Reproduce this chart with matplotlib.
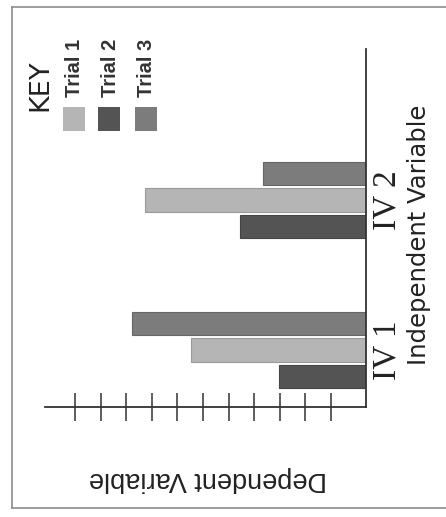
import matplotlib
matplotlib.use("Agg")
import matplotlib.pyplot as plt
from matplotlib import font_manager
from matplotlib.patches import Rectangle
from matplotlib.lines import Line2D

# Chart data (the chart is drawn turned a quarter turn, bars grow leftwards)
categories = ["IV 1", "IV 2"]
trials = ["Trial 1", "Trial 2", "Trial 3"]
trial1 = [6.84, 8.63]
trial2 = [3.40, 4.92]
trial3 = [9.14, 4.02]
tick_vals = [1.37, 2.37, 3.37, 4.37, 5.37, 6.37, 7.37, 8.37, 9.37, 10.37, 11.37]

colors = {"Trial 1": "#b5b5b5", "Trial 2": "#545454", "Trial 3": "#7c7c7c"}
edges = {"Trial 1": "#9a9a9a", "Trial 2": "#444444", "Trial 3": "#666666"}

names = {f.name for f in font_manager.fontManager.ttflist}
narrow = "Liberation Sans" if "Liberation Sans" in names else "DejaVu Sans"
serif = "Liberation Serif" if "Liberation Serif" in names else "DejaVu Serif"

W, H = 446, 517
fig = plt.figure(figsize=(W / 100, H / 100), dpi=100)


def fx(px):
    return px / W


def fy(py):
    return (H - py) / H


# outer frame (top, left, bottom only, right edge is cut off)
frame_kw = dict(color="#8c8c8c", lw=1.2, transform=fig.transFigure)
fig.lines.append(Line2D([fx(12), fx(446)], [fy(7), fy(7)], **frame_kw))
fig.lines.append(Line2D([fx(12), fx(12)], [fy(7), fy(508)], **frame_kw))
fig.lines.append(Line2D([fx(12), fx(446)], [fy(508), fy(508)], **frame_kw))

ax = fig.add_axes([fx(45), fy(407), fx(366) - fx(45), fy(49) - fy(407)])

pos = [0, 1]
bh = 0.157
off = 0.176
series = {"Trial 1": trial1, "Trial 2": trial2, "Trial 3": trial3}
offsets = {"Trial 2": -off, "Trial 1": 0.0, "Trial 3": off}
for t in trials:
    ax.barh([p + offsets[t] for p in pos], series[t], height=bh,
            color=colors[t], edgecolor=edges[t], linewidth=0.8)

ax.set_xlim(12.54, 0)
ax.set_ylim(-0.38, 2.007)

for s in ["top", "left"]:
    ax.spines[s].set_visible(False)
for s in ["right", "bottom"]:
    ax.spines[s].set_linewidth(1.3)
    ax.spines[s].set_color("#333333")

ax.set_xticks(tick_vals)
ax.set_xticklabels([])
ax.tick_params(axis="x", direction="inout", length=20, width=1.1, color="#333333")

ax.yaxis.tick_right()
ax.set_yticks(pos)
ax.set_yticklabels(categories, rotation=90, va="center", ha="left",
                   family=serif, fontsize=24, color="#222222")
ax.tick_params(axis="y", length=0, pad=4)

ax.set_xlabel("Dependent Variable", rotation=180, ha="center", va="center",
              family=narrow, fontsize=19.5, color="#222222")
ax.xaxis.set_label_coords(0.508, -0.2)

ax.yaxis.set_label_position("right")
ax.set_ylabel("Independent Variable", rotation=90, ha="center", va="center",
              family="DejaVu Sans", fontsize=17.5, color="#222222")
ax.yaxis.set_label_coords((419 - 45) / 321, (407 - 235) / 358)

# hand-made key, turned like the rest of the chart
fig.text(fx(40), fy(85), "KEY", rotation=90, ha="center", va="center",
         family="DejaVu Sans", fontsize=19.5, color="#222222")
key_x = {"Trial 1": 63, "Trial 2": 98, "Trial 3": 135}
label_x = {"Trial 1": 74, "Trial 2": 110, "Trial 3": 147}
for t in trials:
    fig.patches.append(Rectangle((fx(key_x[t]), fy(131)), fx(22), fy(0) - fy(24),
                                 transform=fig.transFigure,
                                 facecolor=colors[t], edgecolor="none"))
    fig.text(fx(label_x[t]), fy(97), t, rotation=90, ha="center", va="bottom",
             family=narrow, fontsize=14.5, weight="bold", color="#333333")

fig.savefig("out.png", dpi=100)
